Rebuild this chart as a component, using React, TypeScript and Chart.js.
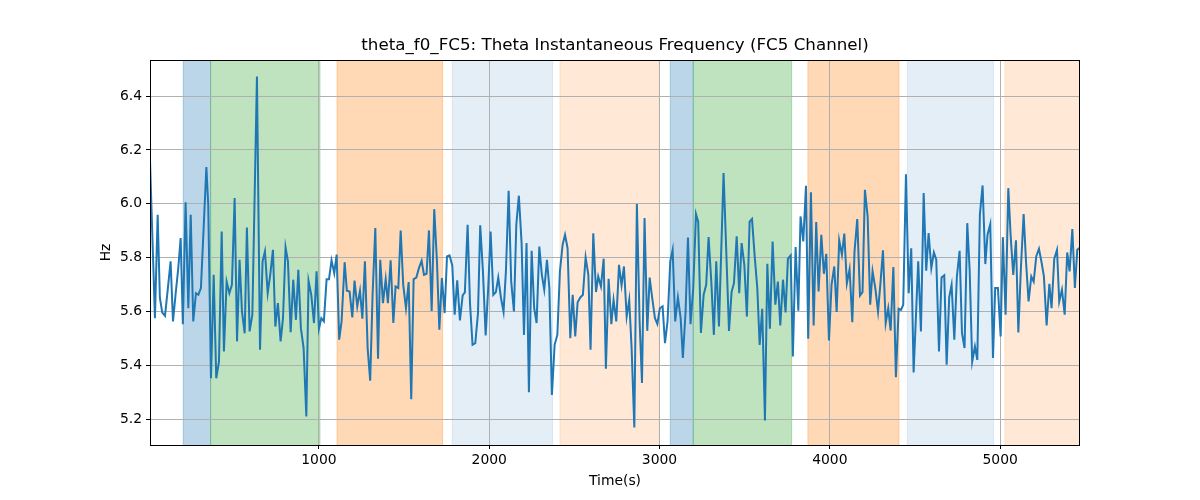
import React, { useEffect, useRef } from "react";
import { Chart, registerables } from "chart.js";

Chart.register(...registerables);

// ---- data ----
const timeS = [
  8, 37, 53, 66, 80, 96, 113, 129, 143, 158, 174, 188, 201, 217, 233, 247, 262, 278, 292, 307, 323, 339, 350,
  366, 382, 397, 413, 429, 442, 458, 474, 489, 505, 519, 534, 548, 564, 577, 593, 609, 636, 654, 669, 683, 699,
  714, 730, 744, 759, 775, 789, 804, 818, 834, 849, 865, 879, 894, 910, 926, 939, 955, 971, 986, 1000, 1014,
  1029, 1045, 1059, 1074, 1090, 1104,
  1119, 1133, 1151, 1164, 1180, 1196, 1209, 1225, 1241, 1255, 1270, 1286, 1301, 1315, 1331, 1347, 1360, 1376,
  1392, 1405, 1421, 1437, 1450, 1466, 1480, 1495, 1511, 1527, 1542, 1556, 1572, 1587, 1603, 1617, 1632, 1646,
  1662, 1677, 1693, 1707, 1722, 1738, 1752, 1767, 1783, 1797, 1812, 1828, 1844, 1857, 1873, 1887, 1902, 1918,
  1934, 1947, 1963, 1979, 1994, 2008, 2024, 2039, 2053, 2069, 2084, 2098, 2114, 2129, 2145, 2159, 2174, 2190,
  2204,
  2219, 2233, 2249, 2264, 2278, 2294, 2309, 2323, 2339, 2353, 2368, 2384, 2400, 2415, 2431, 2445, 2460, 2476,
  2490, 2505, 2519, 2535, 2550, 2566, 2582, 2595, 2611, 2627, 2640, 2656, 2672, 2685, 2701, 2717, 2730, 2746,
  2762, 2777, 2791, 2807, 2822, 2836, 2852, 2867, 2883, 2897, 2912, 2928, 2942, 2957, 2973, 2987, 3002, 3018,
  3032, 3047, 3063, 3077, 3092, 3108, 3124, 3137, 3153, 3167, 3182, 3198, 3214, 3227, 3243, 3259, 3274, 3288,
  3304, 3319, 3333, 3349,
  3376, 3408, 3423, 3437, 3453, 3468, 3482, 3498, 3513, 3529, 3543, 3558, 3574, 3588, 3603, 3619, 3633, 3648,
  3664, 3680, 3695, 3709, 3725, 3740, 3754, 3770, 3783, 3799, 3815, 3828, 3844, 3860, 3873, 3889, 3905, 3920,
  3934, 3950, 3965, 3979, 3995, 4010, 4026, 4040, 4055, 4071, 4085, 4100, 4116, 4132, 4145, 4161, 4177, 4192,
  4206, 4222, 4237, 4251, 4267, 4283, 4298, 4312, 4328, 4343, 4357, 4373, 4388, 4404, 4418, 4431, 4447, 4463,
  4478, 4492,
  4519, 4535, 4551, 4566, 4580, 4596, 4611, 4625, 4641, 4656, 4672, 4686, 4701, 4715, 4731, 4746, 4762, 4776,
  4791, 4807, 4821, 4836, 4852, 4866, 4881, 4897, 4913, 4926, 4942, 4958, 4971, 4987, 5003, 5016, 5032, 5048,
  5062, 5077, 5093, 5107, 5122, 5138, 5152, 5167, 5183, 5197, 5212, 5228, 5244, 5257, 5273, 5289, 5302, 5318,
  5334, 5347, 5363, 5379, 5394, 5408, 5424, 5439, 5453, 5469,
];

const freqHz = [
  6.16, 5.575, 5.959, 5.65, 5.596, 5.584, 5.687, 5.786, 5.563, 5.662, 5.761, 5.873, 5.553, 6.006, 5.612, 5.959,
  5.563, 5.668, 5.662, 5.687, 5.91, 6.136, 5.996,
  5.352, 5.736, 5.352, 5.414, 5.897, 5.451, 5.711, 5.668, 5.699, 6.021, 5.489, 5.792, 5.6, 5.519, 5.912, 5.526,
  5.588, 6.473, 5.458, 5.786, 5.823, 5.668,
  5.736, 5.829, 5.544, 5.631, 5.489, 5.575, 5.838, 5.786, 5.523, 5.718, 5.569, 5.755, 5.538, 5.464, 5.21, 5.714,
  5.662, 5.557, 5.749, 5.536, 5.575,
  5.563, 5.72, 5.72, 5.79, 5.742, 5.811,
  5.495, 5.563, 5.783, 5.677, 5.674, 5.578, 5.715, 5.619, 5.677, 5.573, 5.786, 5.464, 5.343, 5.662, 5.91, 5.424,
  5.792, 5.631,
  5.72, 5.631, 5.79, 5.557, 5.693, 5.687, 5.901, 5.699, 5.612, 5.709, 5.274, 5.72, 5.726, 5.761, 5.788, 5.736,
  5.74, 5.901,
  5.602, 5.98, 5.786, 5.532, 5.724, 5.594, 5.804, 5.808, 5.771, 5.588, 5.716, 5.567, 5.66, 5.671, 5.922, 5.631,
  5.476, 5.482,
  5.594, 5.92, 5.749, 5.511, 5.687, 5.897, 5.662, 5.672, 5.726, 5.65, 5.598, 5.749, 6.048, 5.711, 5.6, 5.922,
  6.03, 5.854,
  5.513,
  5.854, 5.3, 5.825, 5.612, 5.557, 5.841, 5.736, 5.681, 5.792, 5.687, 5.29, 5.476, 5.513, 5.749, 5.848, 5.885,
  5.835, 5.501,
  5.662, 5.507, 5.634, 5.652, 5.662, 5.801, 5.736, 5.458, 5.89, 5.672, 5.73, 5.693, 5.796, 5.387, 5.721, 5.553,
  5.643, 5.563,
  5.773, 5.697, 5.767, 5.581, 5.643, 5.464, 5.169, 5.999, 5.563, 5.334, 5.947, 5.528, 5.726, 5.65, 5.575, 5.554,
  5.612, 5.619,
  5.482, 5.563, 5.786, 5.829, 5.563, 5.652, 5.575, 5.427, 5.6, 5.875, 5.553, 5.687, 5.962, 5.934, 5.52, 5.662,
  5.699, 5.876,
  5.711, 5.513, 5.786, 5.544,
  6.114, 5.528, 5.672, 5.705, 5.879, 5.668, 5.854, 5.773, 5.581, 5.934, 5.944, 5.811, 5.687, 5.476, 5.61, 5.195,
  5.777, 5.536,
  5.86, 5.625, 5.711, 5.548, 5.718, 5.596, 5.796, 5.808, 5.433, 5.839, 5.603, 5.953, 5.86, 6.067, 5.499, 6.043,
  5.548, 5.932,
  5.674, 5.885, 5.74, 5.814, 5.492, 5.699, 5.767, 5.598, 5.864, 5.811, 5.889, 5.705, 5.757, 5.56, 5.823, 5.943,
  5.659, 5.672,
  6.052, 5.953, 5.625, 5.749, 5.687, 5.6, 5.711, 5.827, 5.557, 5.612, 5.529, 5.765, 5.356, 5.61, 5.606, 5.625,
  6.11, 5.668,
  5.835, 5.373,
  5.786, 5.526, 6.04, 5.751, 5.891, 5.761, 5.819, 5.792, 5.451, 5.726, 5.734, 5.402, 5.653, 5.699, 5.495, 5.73,
  5.825, 5.519,
  5.464, 5.928, 5.755, 5.414, 5.47, 5.42, 5.959, 6.068, 5.776, 5.885, 5.924, 5.427, 5.687, 5.687, 5.507, 5.876,
  5.588, 6.058,
  5.879, 5.736, 5.864, 5.522, 5.761, 5.962, 5.786, 5.637, 5.73, 5.711, 5.804, 5.833, 5.78, 5.73, 5.548, 5.703,
  5.612, 5.796,
  5.829, 5.637, 5.681, 5.588, 5.819, 5.749, 5.906, 5.687, 5.829, 5.838,
];

// shaded intervals (seconds)
const spanStart = [203, 364, 1106, 1783, 2415, 3063, 3198, 3871, 4455, 5028];
const spanEnd = [364, 1006, 1726, 2372, 2998, 3198, 3776, 4406, 4962, 5480];
const spanKind = ["blue", "green", "orange", "lightblue", "lightorange", "blue", "green", "orange", "lightblue", "lightorange"];

const xTicks = [1000, 2000, 3000, 4000, 5000];
const yTicks = [5.2, 5.4, 5.6, 5.8, 6.0, 6.2, 6.4];

const X_MIN = 8;
const X_MAX = 5469;
const Y_MIN = 5.104;
const Y_MAX = 6.534;

const TITLE = "theta_f0_FC5: Theta Instantaneous Frequency (FC5 Channel)";
const X_LABEL = "Time(s)";
const Y_LABEL = "Hz";

// ---- styles ----
const SPAN_FILL: Record<string, string> = {
  blue: "rgba(31,119,180,0.3)",
  green: "rgba(44,160,44,0.3)",
  orange: "rgba(255,127,14,0.3)",
  lightblue: "rgba(31,119,180,0.12)",
  lightorange: "rgba(255,127,14,0.17)",
};
const FONT = "'DejaVu Sans', sans-serif";

const spansPlugin = {
  id: "spans",
  beforeDraw(chart: any) {
    const { ctx, chartArea: a, scales } = chart;
    const xs = scales.x;
    ctx.save();
    ctx.beginPath();
    ctx.rect(a.left, a.top, a.right - a.left, a.bottom - a.top);
    ctx.clip();
    spanStart.forEach((s, i) => {
      const x1 = xs.getPixelForValue(s);
      const x2 = xs.getPixelForValue(spanEnd[i]);
      const c = SPAN_FILL[spanKind[i]];
      ctx.fillStyle = c;
      ctx.fillRect(x1, a.top, x2 - x1, a.bottom - a.top);
      ctx.strokeStyle = c;
      ctx.lineWidth = 1;
      ctx.beginPath();
      ctx.moveTo(x1, a.top);
      ctx.lineTo(x1, a.bottom);
      ctx.moveTo(x2, a.top);
      ctx.lineTo(x2, a.bottom);
      ctx.stroke();
    });
    ctx.restore();
  },
  afterDraw(chart: any) {
    const { ctx, chartArea: a } = chart;
    ctx.save();
    ctx.strokeStyle = "#000";
    ctx.lineWidth = 1;
    ctx.strokeRect(Math.round(a.left) + 0.5, Math.round(a.top) + 0.5, Math.round(a.right - a.left) - 1, Math.round(a.bottom - a.top));
    ctx.fillStyle = "#000";
    ctx.textAlign = "center";
    ctx.textBaseline = "middle";
    const cx = (a.left + a.right) / 2;
    ctx.font = `16.7px ${FONT}`;
    ctx.fillText(TITLE, cx, 46);
    ctx.font = `13.9px ${FONT}`;
    ctx.fillText(X_LABEL, cx, 481);
    ctx.translate(106, (a.top + a.bottom) / 2);
    ctx.rotate(-Math.PI / 2);
    ctx.fillText(Y_LABEL, 0, 0);
    ctx.restore();
  },
};

export default function App() {
  const ref = useRef<HTMLCanvasElement | null>(null);

  useEffect(() => {
    if (!ref.current) return;
    const points = timeS.map((t, i) => ({ x: t, y: freqHz[i] }));
    const tickFont = { family: FONT, size: 13.9 };
    const chart = new Chart(ref.current, {
      type: "line",
      data: {
        datasets: [
          {
            data: points,
            borderColor: "#1f77b4",
            borderWidth: 2,
            pointRadius: 0,
            fill: false,
            tension: 0,
          },
        ],
      },
      options: {
        animation: false,
        responsive: false,
        devicePixelRatio: 1,
        layout: { padding: { top: 60, right: 120, left: 0, bottom: 0 } },
        plugins: {
          legend: { display: false },
          tooltip: { enabled: false },
          title: { display: false },
        },
        scales: {
          x: {
            type: "linear",
            min: X_MIN,
            max: X_MAX,
            afterBuildTicks: (s: any) => {
              s.ticks = xTicks.map((v) => ({ value: v }));
            },
            afterFit: (s: any) => {
              s.height = 55;
            },
            grid: { color: "#b0b0b0", lineWidth: 1, tickColor: "#000", tickLength: 4, drawTicks: true },
            border: { display: false },
            ticks: {
              color: "#000",
              font: tickFont,
              padding: 3,
              maxRotation: 0,
              autoSkip: false,
              callback: (v: any) => String(v),
            },
          },
          y: {
            type: "linear",
            min: Y_MIN,
            max: Y_MAX,
            afterBuildTicks: (s: any) => {
              s.ticks = yTicks.map((v) => ({ value: v }));
            },
            afterFit: (s: any) => {
              s.width = 150;
            },
            grid: { color: "#b0b0b0", lineWidth: 1, tickColor: "#000", tickLength: 4, drawTicks: true },
            border: { display: false },
            ticks: {
              color: "#000",
              font: tickFont,
              padding: 4,
              autoSkip: false,
              callback: (v: any) => Number(v).toFixed(1),
            },
          },
        },
      },
      plugins: [spansPlugin],
    } as any);
    return () => chart.destroy();
  }, []);

  return (
    <div style={{ position: "absolute", left: 0, top: 0, width: 1200, height: 500, background: "#fff" }}>
      <canvas ref={ref} width={1200} height={500} />
    </div>
  );
}
